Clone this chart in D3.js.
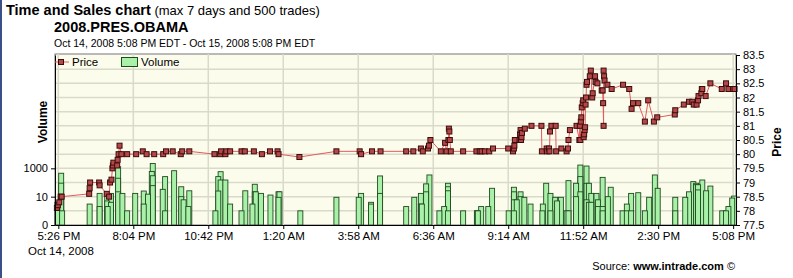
<!DOCTYPE html>
<html>
<head>
<meta charset="utf-8">
<script src="https://cdn.jsdelivr.net/npm/d3@7"></script>
<style>
  body { margin: 0; background: #fff; }
  svg text { font-family: "Liberation Sans", Arial, sans-serif; }
</style>
</head>
<body>
<svg width="793" height="278"></svg>
<script>
// Time and Sales chart, 2008.PRES.OBAMA

// time axis ticks (every 158 minutes)
const xTicks = ["14 17:26", "14 20:04", "14 22:42", "15 01:20", "15 03:58",
                "15 06:36", "15 09:14", "15 11:52", "15 14:30", "15 17:08"];
const priceTicks = [77.5, 78, 78.5, 79, 79.5, 80, 80.5, 81, 81.5, 82, 82.5, 83, 83.5];
const volTicks = [0.1, 10, 1000];

// trades: price series
const priceTimes = [
  "14 17:23", "14 17:25", "14 17:28", "14 17:31", "14 17:33",
  "14 18:31", "14 18:32", "14 18:33", "14 18:52", "14 18:53",
  "14 19:08", "14 19:13", "14 19:15", "14 19:18", "14 19:20", "14 19:21", "14 19:22",
  "14 19:30", "14 19:31", "14 19:33", "14 19:35", "14 19:39", "14 19:51",
  "14 20:10", "14 20:24", "14 20:32", "14 20:48", "14 21:07", "14 21:13", "14 21:27",
  "14 21:44", "14 21:47", "14 22:02", "14 22:55", "14 23:07", "14 23:09", "14 23:18",
  "14 23:20", "14 23:28", "14 23:52", "14 23:59", "15 00:18", "15 00:35", "15 00:52",
  "15 01:08", "15 01:10", "15 01:54", "15 03:12", "15 04:01", "15 04:04", "15 04:27",
  "15 04:45", "15 05:39", "15 05:54", "15 06:10", "15 06:14", "15 06:25", "15 06:27",
  "15 06:30", "15 06:52", "15 07:01", "15 07:04", "15 07:08", "15 07:09", "15 07:10",
  "15 07:11", "15 07:13", "15 07:39", "15 08:07", "15 08:14", "15 08:18", "15 08:25",
  "15 08:34", "15 08:42", "15 09:14", "15 09:24", "15 09:26", "15 09:27", "15 09:28",
  "15 09:38", "15 09:39", "15 09:40", "15 09:41", "15 09:42", "15 09:43", "15 09:49",
  "15 10:03", "15 10:24", "15 10:25", "15 10:35", "15 10:36", "15 10:40", "15 10:41",
  "15 10:42", "15 10:45", "15 10:54", "15 10:55", "15 11:06", "15 11:17", "15 11:20",
  "15 11:21", "15 11:24", "15 11:38", "15 11:44", "15 11:45", "15 11:46", "15 11:47",
  "15 11:48", "15 11:49", "15 11:51", "15 11:52", "15 11:53", "15 11:54", "15 11:55",
  "15 11:56", "15 11:57", "15 11:58", "15 11:59", "15 12:00", "15 12:06", "15 12:08",
  "15 12:11", "15 12:12", "15 12:17", "15 12:18", "15 12:22", "15 12:31", "15 12:33",
  "15 12:34", "15 12:35", "15 12:35", "15 12:36", "15 12:37", "15 12:43", "15 12:52",
  "15 13:16", "15 13:29", "15 13:34", "15 13:37", "15 13:48", "15 14:02", "15 14:09",
  "15 14:21", "15 14:28", "15 15:05", "15 15:06", "15 15:24", "15 15:35", "15 15:42",
  "15 15:45", "15 15:51", "15 15:54", "15 15:55", "15 16:01", "15 16:02", "15 16:03",
  "15 16:10", "15 16:20", "15 16:44", "15 16:53", "15 16:58", "15 17:08", "15 17:11"
];
const prices = [
  78.1, 78.2, 78.3, 78.5, 78.5,
  78.6, 78.8, 79.0, 79.0, 78.9,
  78.6, 78.5, 79.0, 79.1, 79.5, 79.6, 79.7,
  79.6, 79.8, 80.0, 80.3, 80.0, 80.0,
  80.0, 80.1, 80.0, 80.0, 80.0, 80.1, 80.1,
  80.0, 80.1, 80.1, 80.0, 80.0, 80.1, 80.0,
  80.1, 80.1, 80.1, 80.1, 80.1, 80.0, 80.1,
  80.1, 80.0, 79.9, 80.1, 80.1, 80.0, 80.1,
  80.1, 80.1, 80.1, 80.2, 80.1, 80.2, 80.3,
  80.5, 80.1, 80.4, 80.1, 80.5, 80.9, 80.8,
  80.5, 80.1, 80.1, 80.1, 80.1, 80.1, 80.1,
  80.1, 80.2, 80.2, 80.1, 80.2, 80.3, 80.5,
  80.5, 80.7, 80.85, 80.5, 80.6, 80.75, 80.9,
  81.0, 81.0, 80.1, 80.2, 80.1, 80.2, 80.1,
  80.8, 81.0, 81.0, 80.1, 80.2, 80.1, 80.2,
  80.5, 80.85, 81.0, 80.5, 81.0, 80.5, 81.15,
  81.3, 81.65, 81.8, 81.9, 80.6, 80.7, 80.85,
  80.95, 81.75, 82.0, 82.45, 82.55, 82.75, 82.95,
  82.0, 82.15, 82.75, 82.55, 82.5, 82.25, 82.25,
  81.8, 81.0, 82.95, 82.75, 82.6, 82.45, 82.3,
  82.45, 82.3, 81.6, 81.8, 81.8, 81.15, 81.9,
  81.15, 81.3, 81.4, 81.55, 81.75, 81.85, 81.85,
  81.75, 81.75, 81.9, 82.05, 82.15, 82.3, 82.3,
  82.05, 82.5, 82.3, 82.5, 82.3, 82.3, 82.3,
  82.4, 82.45
];

// trades: volume (shares), one bar per trade
const volTimes = [
  "14 17:24", "14 17:32", "14 17:32", "14 17:32", "14 17:34", "14 18:32", "14 18:53",
  "14 18:53", "14 19:09", "14 19:09", "14 19:10", "14 19:17", "14 19:17", "14 19:32",
  "14 19:32", "14 19:32", "14 19:41", "14 19:51", "14 20:08", "14 20:26", "14 20:26",
  "14 20:35", "14 20:43", "14 20:45", "14 20:45", "14 20:45", "14 21:06", "14 21:11",
  "14 21:11", "14 21:30", "14 21:45", "14 21:45", "14 21:50", "14 22:00", "14 22:02",
  "14 22:57", "14 23:03", "14 23:03", "14 23:08", "14 23:08", "14 23:18", "14 23:28",
  "14 23:52", "15 00:00", "15 00:15", "15 00:20", "15 00:20", "15 00:22", "15 00:33",
  "15 00:53", "15 01:10", "15 01:10", "15 01:12", "15 01:56", "15 03:12", "15 03:59",
  "15 04:04", "15 04:25", "15 04:25", "15 04:44", "15 04:44", "15 05:39", "15 05:56",
  "15 06:10", "15 06:10", "15 06:12", "15 06:21", "15 06:21", "15 06:28", "15 06:49",
  "15 06:59", "15 07:07", "15 07:07", "15 07:07", "15 07:07", "15 07:39", "15 08:08",
  "15 08:09", "15 08:10", "15 08:17", "15 08:32", "15 08:40", "15 09:15", "15 09:26",
  "15 09:26", "15 09:26", "15 09:26", "15 09:32", "15 09:40", "15 09:40", "15 09:48",
  "15 10:01", "15 10:26", "15 10:27", "15 10:34", "15 10:43", "15 10:43", "15 10:53",
  "15 10:57", "15 11:05", "15 11:17", "15 11:21", "15 11:21", "15 11:37", "15 11:37",
  "15 11:46", "15 11:46", "15 11:46", "15 11:59", "15 11:59", "15 11:59", "15 12:04",
  "15 12:04", "15 12:09", "15 12:09", "15 12:20", "15 12:23", "15 12:23", "15 12:33",
  "15 12:33", "15 12:33", "15 12:44", "15 12:50", "15 13:15", "15 13:24", "15 13:24",
  "15 13:33", "15 13:33", "15 13:48", "15 14:02", "15 14:11", "15 14:23", "15 14:29",
  "15 15:06", "15 15:06", "15 15:27", "15 15:35", "15 15:44", "15 15:50", "15 15:50",
  "15 15:54", "15 15:54", "15 16:03", "15 16:11", "15 16:20", "15 16:45", "15 16:53",
  "15 16:58", "15 17:06", "15 17:10"
];
const volumes = [
  4, 450, 90, 13, 1, 3, 17,
  2, 17, 5, 2, 17, 4, 1300,
  200, 22, 17, 1, 17, 25, 3,
  15, 600, 2200, 300, 60, 33, 260,
  1, 680, 50, 10, 6, 2, 26,
  1, 260, 25, 580, 150, 150, 3,
  1, 26, 3, 75, 22, 22, 17,
  13, 22, 9, 22, 1, 9, 9,
  17, 4, 3, 290, 17, 2, 9,
  17, 3, 3, 80, 22, 340, 1,
  2, 88, 50, 26, 1, 1, 1,
  1, 1, 2, 2, 39, 1, 46,
  22, 6, 1, 6, 22, 10, 9,
  3, 1, 3, 88, 17, 1, 9,
  5, 9, 1, 135, 1, 88, 10,
  1700, 260, 22, 1450, 88, 6, 88,
  4, 17, 4, 17, 6, 2, 230,
  2, 1, 10, 46, 1, 3, 1,
  17, 1, 19, 1, 9, 340, 39,
  9, 1, 9, 22, 115, 88, 70,
  70, 30, 150, 26, 56, 1, 1,
  2, 8, 11
];

const svg = d3.select("svg");
const T = s => d3.timeParse("%Y-%m-%d %H:%M")("2008-10-" + s);

const plotLeft = 55, plotRight = 736, plotTop = 54, plotBottom = 225;

const x = d3.scaleTime()
            .domain([T("14 17:19"), T("15 17:14")])
            .range([plotLeft, plotRight]);
const yPrice = d3.scaleLinear().domain([77.5, 83.5]).range([plotBottom, plotTop + 1]);
// volume axis is logarithmic, the "0" tick sits at 0.1
const yVol = d3.scaleLog().domain([0.1, 1e11]).range([plotBottom, plotTop + 1]);

// left page border
svg.append("line").attr("x1", 1).attr("x2", 1).attr("y1", 0).attr("y2", 278)
   .attr("stroke", "#3c4f86").attr("stroke-width", 2);

// titles
svg.append("text").attr("x", 6).attr("y", 15)
   .style("font-size", "14.5px").style("font-weight", "bold").text("Time and Sales chart")
   .append("tspan").style("font-weight", "normal").style("font-size", "13px")
   .text(" (max 7 days and 500 trades)");
svg.append("text").attr("x", 54).attr("y", 32)
   .style("font-size", "14.5px").style("font-weight", "bold").text("2008.PRES.OBAMA");
svg.append("text").attr("x", 54).attr("y", 47)
   .style("font-size", "10.5px").text("Oct 14, 2008 5:08 PM EDT - Oct 15, 2008 5:08 PM EDT");

// plot background
svg.append("rect").attr("x", plotLeft).attr("y", plotTop)
   .attr("width", plotRight - plotLeft).attr("height", plotBottom - plotTop)
   .attr("fill", "#fcfcec").attr("stroke", "#777");

// grid
const grid = svg.append("g").attr("stroke", "#dadacb").attr("stroke-width", 1.5);
grid.selectAll(".h").data(priceTicks.slice(1, -1)).join("line")
    .attr("x1", plotLeft).attr("x2", plotRight)
    .attr("y1", d => yPrice(d)).attr("y2", d => yPrice(d));
grid.selectAll(".v").data(xTicks).join("line")
    .attr("x1", d => x(T(d))).attr("x2", d => x(T(d)))
    .attr("y1", plotTop).attr("y2", plotBottom);

// volume bars, biggest first so small trades show on top
const trades = volTimes.map((t, i) => ({ t: T(t), v: volumes[i] }))
                       .sort((a, b) => b.v - a.v);
svg.append("g").selectAll("rect").data(trades).join("rect")
   .attr("x", d => x(d.t) - 2.5)
   .attr("y", d => yVol(d.v))
   .attr("width", 5)
   .attr("height", d => plotBottom - yVol(d.v))
   .attr("fill", "#a9f0a9")
   .attr("stroke", "#1f4a1f")
   .attr("stroke-width", 0.9);

// price line and markers
const pts = priceTimes.map((t, i) => ({ t: T(t), p: prices[i] }));
svg.append("path").datum(pts)
   .attr("fill", "none").attr("stroke", "#e45a5a").attr("stroke-width", 1)
   .attr("d", d3.line().x(d => x(d.t)).y(d => yPrice(d.p)));
svg.append("g").selectAll("rect").data(pts).join("rect")
   .attr("x", d => x(d.t) - 2.5).attr("y", d => yPrice(d.p) - 2.5)
   .attr("width", 5).attr("height", 5)
   .attr("fill", "#b44848").attr("stroke", "#3c0c0c").attr("stroke-width", 1);

// axes
const styleAxis = (g, size) => {
    g.select(".domain").attr("stroke", "#000");
    g.selectAll(".tick line").attr("stroke", "#000");
    g.selectAll("text").style("font-size", size).style("font-family", "'Liberation Sans', Arial, sans-serif")
     .attr("fill", "#000");
};
svg.append("g").attr("transform", `translate(0,${plotBottom})`)
   .call(d3.axisBottom(x).tickValues(xTicks.map(T)).tickSize(4).tickSizeOuter(0)
           .tickFormat(d3.timeFormat("%-I:%M %p")))
   .call(g => styleAxis(g, "11.5px"));
svg.append("g").attr("transform", `translate(${plotLeft},0)`)
   .call(d3.axisLeft(yVol).tickValues(volTicks).tickSize(4).tickSizeOuter(0)
           .tickFormat(d => d < 1 ? "0" : d))
   .call(g => styleAxis(g, "11px"));
svg.append("g").attr("transform", `translate(${plotRight},0)`)
   .call(d3.axisRight(yPrice).tickValues(priceTicks).tickSize(4).tickSizeOuter(0)
           .tickFormat(d3.format("")))
   .call(g => styleAxis(g, "11px"));

// axis titles
svg.append("text").attr("transform", "translate(47,122) rotate(-90)")
   .attr("text-anchor", "middle").style("font-size", "12px").style("font-weight", "bold").text("Volume");
svg.append("text").attr("transform", "translate(781,142) rotate(-90)")
   .attr("text-anchor", "middle").style("font-size", "12px").style("font-weight", "bold").text("Price");

svg.append("text").attr("x", 28).attr("y", 255).style("font-size", "11.5px").text("Oct 14, 2008");

// legend
const lg = svg.append("g");
lg.append("line").attr("x1", 55).attr("x2", 69).attr("y1", 62).attr("y2", 62)
  .attr("stroke", "#e45a5a");
lg.append("rect").attr("x", 58.5).attr("y", 59.5).attr("width", 5).attr("height", 5)
  .attr("fill", "#b44848").attr("stroke", "#3c0c0c");
lg.append("text").attr("x", 72).attr("y", 66).style("font-size", "11.5px").text("Price");
lg.append("rect").attr("x", 121.5).attr("y", 57.5).attr("width", 16).attr("height", 9)
  .attr("fill", "#a9f0a9").attr("stroke", "#1f4a1f");
lg.append("text").attr("x", 141).attr("y", 66).style("font-size", "11.5px").text("Volume");

// source
svg.append("text").attr("x", 735).attr("y", 270).attr("text-anchor", "end")
   .style("font-size", "11px").text("Source: ")
   .append("tspan").style("font-weight", "bold").text("www.intrade.com")
   .append("tspan").style("font-weight", "normal").text(" ©");
</script>
</body>
</html>
